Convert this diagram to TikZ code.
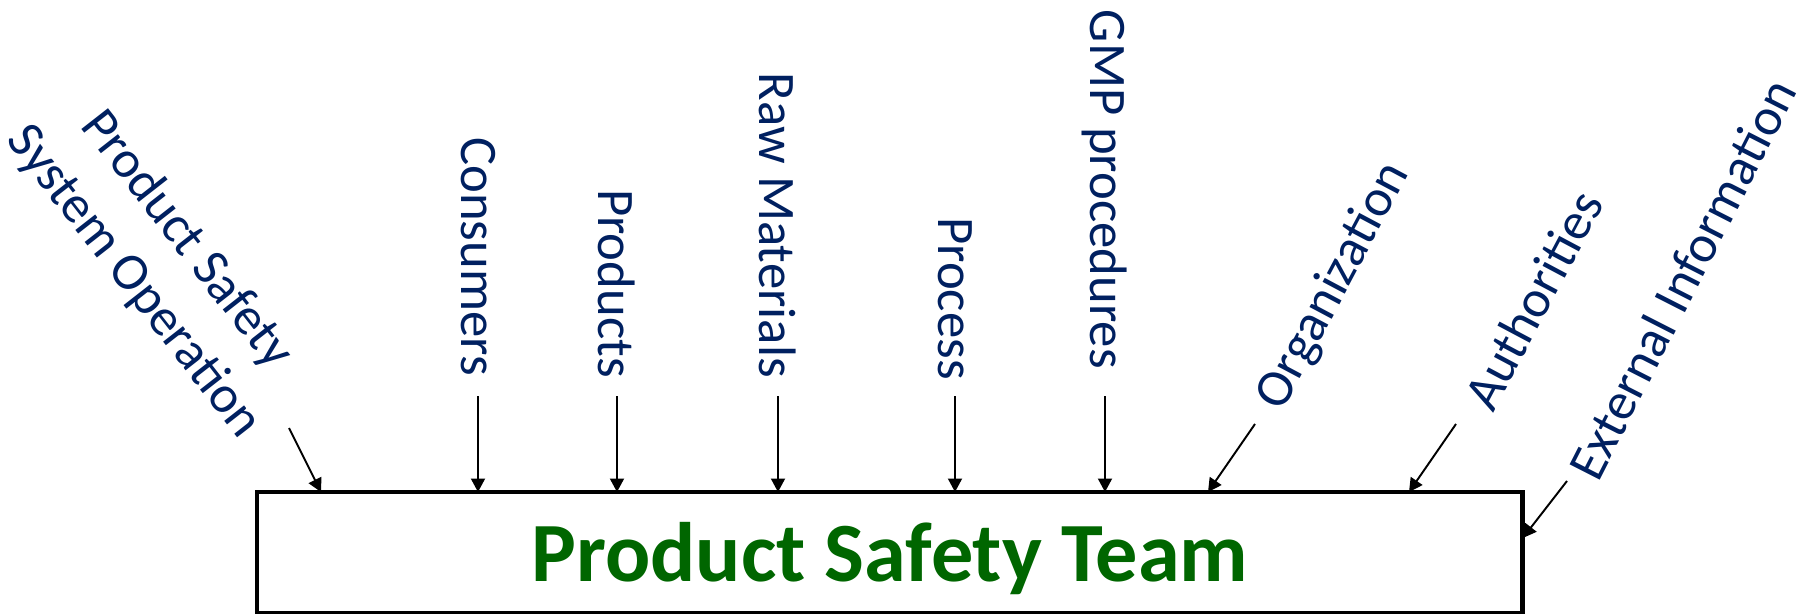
\documentclass[tikz,border=0pt]{standalone}
\usepackage{fontspec}
\setmainfont{Carlito}
\usetikzlibrary{arrows.meta}
\usetikzlibrary{calc}
\definecolor{navy}{RGB}{0,32,96}
\definecolor{teamgreen}{RGB}{0,102,0}

\begin{document}
\begin{tikzpicture}[x=0.02cm,y=0.02cm,
  lbl/.style={text=navy, font=\fontsize{30}{38}\selectfont, inner sep=0pt},
  arr/.style={-{Triangle[length=0.27cm,width=0.28cm]}, line width=1.1pt},
  team/.style={draw, line width=2.8pt, outer sep=0pt, text=teamgreen,
    font=\fontsize{48}{56}\selectfont\bfseries, text height=38pt, text depth=5pt,
    minimum width=25.32cm, minimum height=2.42cm, anchor=north west}]

 \useasboundingbox (0,0) rectangle (1796,613);

 \node[team] (box) at (257,121) {Product Safety Team}; % la boite du bas

 % les entrees verticales
 \node[lbl, rotate=-90, anchor=east] (cons) at (478,237) {Consumers};
 \node[lbl, rotate=-90, anchor=east] (prod) at (617,235) {Products};
 \node[lbl, rotate=-90, anchor=east] (raw)  at (778,235) {Raw Materials};
 \node[lbl, rotate=-90, anchor=east] (proc) at (955,233) {Process};
 \node[lbl, rotate=-90, anchor=east] (gmp)  at (1105,244) {GMP procedures};

 \coordinate (tails) at (0,217);
 \foreach \Lab in {cons,prod,raw,proc,gmp}{
    \draw[arr] (\Lab.east |- tails) -- (\Lab.east |- box.north);
 }

 % les entrees en biais
 \node[lbl, rotate=-52, align=center] (psso) at (160,352) {Product Safety\\System Operation};
 \node[lbl, rotate=62] (org)  at (1334,327) {Organization};
 \node[lbl, rotate=62] (auth) at (1533,313) {Authorities};
 \node[lbl, rotate=63] (ext)  at (1682,334) {External Information};

 \coordinate (pssoTail) at (289,185);
 \coordinate (orgTail)  at (1255,189);
 \coordinate (authTail) at (1456,189);
 \coordinate (extTail)  at (1567,132);

 \draw[arr] (pssoTail) -- (box.north -| 321,0);
 \draw[arr] (orgTail)  -- (box.north -| 1208,0);
 \draw[arr] (authTail) -- (box.north -| 1409,0);
 \draw[arr] (extTail)  -- (box.east |- 0,75);
\end{tikzpicture}
\end{document}
